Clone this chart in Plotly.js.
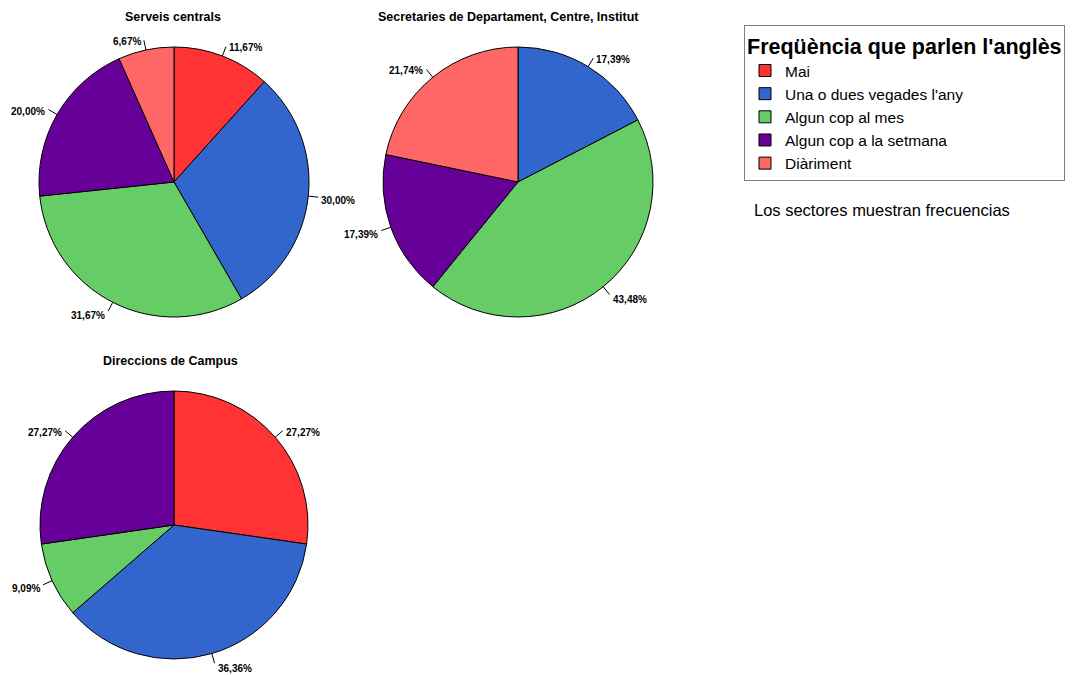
<!DOCTYPE html>
<html>
<head>
<meta charset="utf-8">
<script src="https://cdn.plot.ly/plotly-3.0.1.min.js"></script>
<style>html,body{margin:0;padding:0;background:#fff;}#chart{width:1072px;height:675px;}</style>
</head>
<body>
<div id="chart"></div>
<script>
// Categories (legend order)
const categories = ["Mai", "Una o dues vegades l'any", "Algun cop al mes", "Algun cop a la setmana", "Diàriment"];
const colors = ["#ff3333", "#3366cc", "#66cc66", "#660099", "#ff6666"];

// Counts per group (read from the percentages shown)
const serveisCentrals = [7, 18, 19, 12, 4];        // n = 60
const secretaries     = [0, 4, 10, 4, 5];         // n = 23
const direccions      = [3, 4, 1, 3, 0];          // n = 11

const pieTitles = ["Serveis centrals", "Secretaries de Departament, Centre, Institut", "Direccions de Campus"];
const legendTitle = "Freqüència que parlen l'anglès";
const footnote = "Los sectores muestran frecuencias";

const W = 1072, H = 675;
const FONT = 'Liberation Sans, Arial, sans-serif';

// pie geometry (pixels): centre x, centre y, radius
const pies = [
  {vals: serveisCentrals, cx: 174, cy: 182, r: 135, title: pieTitles[0], tx: 173, ty: 17},
  {vals: secretaries,     cx: 518, cy: 182, r: 135, title: pieTitles[1], tx: 508, ty: 17},
  {vals: direccions,      cx: 174, cy: 525, r: 134, title: pieTitles[2], tx: 170, ty: 361}
];

function dom(cx, cy, r) {
  return {x: [(cx - r) / W, (cx + r) / W], y: [1 - (cy + r) / H, 1 - (cy - r) / H]};
}

const data = [];
const annotations = [];
const shapes = [];
pies.forEach((p, k) => {
  const labels = [], values = [], cols = [];
  p.vals.forEach((v, i) => { if (v > 0) { labels.push(categories[i]); values.push(v); cols.push(colors[i]); } });
  data.push({
    type: 'pie', labels: labels, values: values, sort: false, direction: 'clockwise', rotation: 0,
    domain: dom(p.cx, p.cy, p.r),
    marker: {colors: cols, line: {color: '#000', width: 1}},
    textinfo: 'none', showlegend: k === 0, hoverinfo: 'label+percent'
  });
  // percentage labels with short leader lines
  const total = values.reduce((a, b) => a + b, 0);
  let cum = 0;
  values.forEach(v => {
    const mid = (cum + v / 2) / total * 2 * Math.PI;
    cum += v;
    const s = Math.sin(mid), c = Math.cos(mid);
    const ex = p.cx + p.r * s, ey = p.cy - p.r * c;
    const lx = p.cx + (p.r + 10) * s, ly = p.cy - (p.r + 10) * c;
    shapes.push({type: 'line', xref: 'paper', yref: 'paper',
      x0: ex / W, y0: 1 - ey / H, x1: lx / W, y1: 1 - ly / H,
      line: {color: '#000', width: 1}});
    const txt = (v / total * 100).toFixed(2).replace('.', ',') + '%';
    const right = s >= 0;
    const ty = Math.min(ly + 3 - 2 * c, H - 7);
    annotations.push({
      text: txt, x: (lx + (right ? 2 : -2)) / W, y: 1 - ty / H, xref: 'paper', yref: 'paper',
      showarrow: false, xanchor: right ? 'left' : 'right', yanchor: 'middle', borderpad: 0,
      font: {family: FONT, size: 10, color: '#000', weight: 'bold'}
    });
  });
  annotations.push({
    text: p.title, x: p.tx / W, y: 1 - p.ty / H, xref: 'paper', yref: 'paper',
    xanchor: 'center', yanchor: 'middle', showarrow: false,
    font: {family: FONT, size: 12.5, color: '#000', weight: 'bold'}
  });
});

annotations.push({
  text: footnote, x: 752 / W, y: 1 - 210 / H, xref: 'paper', yref: 'paper',
  xanchor: 'left', yanchor: 'middle', showarrow: false,
  font: {family: FONT, size: 16.5, color: '#000'}
});

const layout = {
  width: W, height: H,
  margin: {l: 0, r: 0, t: 0, b: 0},
  paper_bgcolor: '#fff', plot_bgcolor: '#fff',
  separators: ',.',
  showlegend: true,
  legend: {
    x: 744 / W, y: 1 - 25 / H, xanchor: 'left', yanchor: 'top',
    bgcolor: '#fff', bordercolor: '#808080', borderwidth: 1,
    title: {text: legendTitle, font: {family: FONT, size: 21.5, color: '#000', weight: 'bold'}},
    font: {family: FONT, size: 15.5, color: '#000'},
    traceorder: 'normal'
  },
  shapes: shapes,
  annotations: annotations
};

Plotly.newPlot('chart', data, layout, {displayModeBar: false, staticPlot: true});
</script>
</body>
</html>
